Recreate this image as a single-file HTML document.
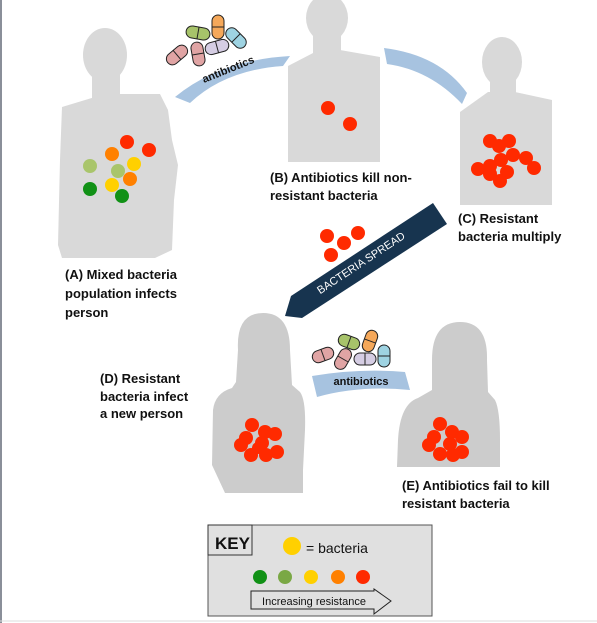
<!DOCTYPE html>
<html><head><meta charset="utf-8">
<style>
html,body{margin:0;padding:0;background:#fff;}
svg{display:block;font-family:"Liberation Sans",sans-serif;}
.lbl{font-weight:bold;font-size:13px;fill:#111;}
</style></head>
<body>
<svg width="597" height="623" viewBox="0 0 597 623">
<line x1="1" y1="0" x2="1" y2="623" stroke="#8a8f99" stroke-width="2"/>
<line x1="0" y1="621" x2="597" y2="621" stroke="#ddd" stroke-width="1"/>

<!-- Figure A -->
<g fill="#d9d9d9">
<ellipse cx="105" cy="55" rx="22" ry="27"/>
<rect x="92" y="70" width="28" height="35"/>
<path d="M62,107 L95,97 L120,94 L160,94 L168,110 L172,140 L178,165 L174,200 L172,250 L155,258 L62,258 L58,245 L60,160 Z"/>
</g>
<g>
<circle cx="127" cy="142" r="7" fill="#ff2a00"/><circle cx="149" cy="150" r="7" fill="#ff2a00"/>
<circle cx="112" cy="154" r="7" fill="#ff8000"/><circle cx="90" cy="166" r="7" fill="#a9c56b"/>
<circle cx="118" cy="171" r="7" fill="#a9c56b"/><circle cx="134" cy="164" r="7" fill="#ffd000"/>
<circle cx="130" cy="179" r="7" fill="#ff8000"/><circle cx="112" cy="185" r="7" fill="#ffd000"/>
<circle cx="90" cy="189" r="7" fill="#119116"/><circle cx="122" cy="196" r="7" fill="#119116"/>
</g>

<!-- Figure B -->
<g fill="#d9d9d9">
<ellipse cx="327" cy="18" rx="21" ry="24"/>
<rect x="313" y="30" width="28" height="30"/>
<path d="M288,66 L315,52 L340,50 L380,57 L380,162 L288,162 Z"/>
</g>
<circle cx="328" cy="108" r="7" fill="#ff2a00"/>
<circle cx="350" cy="124" r="7" fill="#ff2a00"/>

<!-- Figure C -->
<g fill="#d9d9d9">
<ellipse cx="502" cy="62" rx="20" ry="25"/>
<rect x="490" y="75" width="26" height="20"/>
<path d="M460,112 L488,92 L515,92 L552,100 L552,205 L460,205 Z"/>
</g>
<g fill="#ff2a00">
<circle cx="490" cy="141" r="7"/><circle cx="499" cy="146" r="7"/><circle cx="509" cy="141" r="7"/>
<circle cx="501" cy="160" r="7"/><circle cx="513" cy="155" r="7"/><circle cx="526" cy="158" r="7"/>
<circle cx="534" cy="168" r="7"/><circle cx="478" cy="169" r="7"/><circle cx="490" cy="166" r="7"/>
<circle cx="490" cy="174" r="7"/><circle cx="507" cy="172" r="7"/><circle cx="500" cy="181" r="7"/>
</g>

<!-- Arrows light blue -->
<g>
<path d="M175,97 Q220,60 290,56 L283,66 Q225,70 190,103 Z" fill="#a7c3e0"/>
<text x="0" y="0" font-size="11" font-weight="bold" fill="#111" transform="translate(204,83) rotate(-22)">antibiotics</text>
</g>
<path d="M384,48 Q440,55 467,93 L462,104 Q430,70 387,64 Z" fill="#a7c3e0"/>

<!-- Pills 1 -->
<g stroke="#222" stroke-width="1">
<g transform="translate(177,55) rotate(-40)"><rect x="-12" y="-6" width="24" height="12" rx="6" fill="#e0a4a4"/><line x1="0" y1="-6" x2="0" y2="6"/></g>
<g transform="translate(198,54) rotate(80)"><rect x="-12" y="-6" width="24" height="12" rx="6" fill="#e0a4a4"/><line x1="0" y1="-6" x2="0" y2="6"/></g>
<g transform="translate(198,33) rotate(10)"><rect x="-12" y="-6" width="24" height="12" rx="6" fill="#a7c36a"/><line x1="0" y1="-6" x2="0" y2="6"/></g>
<g transform="translate(218,27) rotate(90)"><rect x="-12" y="-6" width="24" height="12" rx="6" fill="#f5a85a"/><line x1="0" y1="-6" x2="0" y2="6"/></g>
<g transform="translate(217,47) rotate(-15)"><rect x="-12" y="-6" width="24" height="12" rx="6" fill="#d5cde3"/><line x1="0" y1="-6" x2="0" y2="6"/></g>
<g transform="translate(236,38) rotate(45)"><rect x="-12" y="-6" width="24" height="12" rx="6" fill="#9ed3e2"/><line x1="0" y1="-6" x2="0" y2="6"/></g>
</g>

<!-- Bacteria spread arrow -->
<g>
<polygon points="433,203 447,224 302,318 285,316 291,296" fill="#17344f"/>
<text x="0" y="0" font-size="11" fill="#fff" text-anchor="middle" transform="translate(363,266) rotate(-33.5)">BACTERIA SPREAD</text>
</g>
<g fill="#ff2a00">
<circle cx="327" cy="236" r="7"/><circle cx="358" cy="233" r="7"/><circle cx="344" cy="243" r="7"/><circle cx="331" cy="255" r="7"/>
</g>

<!-- Figure D -->
<g fill="#cccccc">
<path d="M238,350 Q236,313 263,313 Q290,313 290,350 L292,385 L300,392 Q306,400 305,430 L303,470 L303,493 L225,493 L212,465 L213,410 Q215,393 232,388 L236,382 Z"/>
</g>
<g fill="#ff2a00">
<circle cx="252" cy="425" r="7"/><circle cx="265" cy="432" r="7"/><circle cx="275" cy="434" r="7"/>
<circle cx="246" cy="438" r="7"/><circle cx="241" cy="445" r="7"/><circle cx="262" cy="443" r="7"/>
<circle cx="277" cy="452" r="7"/><circle cx="251" cy="455" r="7"/><circle cx="266" cy="455" r="7"/><circle cx="258" cy="448" r="6"/>
</g>

<!-- Figure E -->
<g fill="#cccccc">
<path d="M432,360 Q432,322 460,322 Q488,322 487,360 L488,392 L495,400 Q500,410 500,440 L500,467 L397,467 L398,440 Q400,404 418,398 L432,390 Z"/>
</g>
<g fill="#ff2a00">
<circle cx="440" cy="424" r="7"/><circle cx="452" cy="432" r="7"/><circle cx="462" cy="437" r="7"/>
<circle cx="434" cy="437" r="7"/><circle cx="429" cy="445" r="7"/><circle cx="450" cy="444" r="7"/>
<circle cx="462" cy="452" r="7"/><circle cx="440" cy="454" r="7"/><circle cx="453" cy="455" r="7"/>
</g>

<!-- Antibiotics arrow 2 -->
<g>
<path d="M312,376 Q360,368 405,372 L410,390 Q360,385 317,397 Z" fill="#a7c3e0"/>
<text x="361" y="385" font-size="11" font-weight="bold" fill="#111" text-anchor="middle">antibiotics</text>
</g>
<g stroke="#222" stroke-width="1">
<g transform="translate(323,355) rotate(-20)"><rect x="-11" y="-6" width="22" height="12" rx="6" fill="#e0a4a4"/><line x1="0" y1="-6" x2="0" y2="6"/></g>
<g transform="translate(343,359) rotate(-60)"><rect x="-11" y="-6" width="22" height="12" rx="6" fill="#e0a4a4"/><line x1="0" y1="-6" x2="0" y2="6"/></g>
<g transform="translate(349,342) rotate(20)"><rect x="-11" y="-6" width="22" height="12" rx="6" fill="#a7c36a"/><line x1="0" y1="-6" x2="0" y2="6"/></g>
<g transform="translate(370,341) rotate(-70)"><rect x="-11" y="-6" width="22" height="12" rx="6" fill="#f5a85a"/><line x1="0" y1="-6" x2="0" y2="6"/></g>
<g transform="translate(365,359)"><rect x="-11" y="-6" width="22" height="12" rx="6" fill="#d5cde3"/><line x1="0" y1="-6" x2="0" y2="6"/></g>
<g transform="translate(384,356) rotate(90)"><rect x="-11" y="-6" width="22" height="12" rx="6" fill="#9ed3e2"/><line x1="0" y1="-6" x2="0" y2="6"/></g>
</g>

<!-- Labels -->
<text class="lbl"><tspan x="65" y="279">(A) Mixed bacteria</tspan><tspan x="65" y="298">population infects</tspan><tspan x="65" y="317">person</tspan></text>
<text class="lbl"><tspan x="270" y="182">(B) Antibiotics kill non-</tspan><tspan x="270" y="200">resistant bacteria</tspan></text>
<text class="lbl"><tspan x="458" y="223">(C) Resistant</tspan><tspan x="458" y="241">bacteria multiply</tspan></text>
<text class="lbl"><tspan x="100" y="383">(D) Resistant</tspan><tspan x="100" y="401">bacteria infect</tspan><tspan x="100" y="418">a new person</tspan></text>
<text class="lbl"><tspan x="402" y="490">(E) Antibiotics fail to kill</tspan><tspan x="402" y="508">resistant bacteria</tspan></text>

<!-- Key -->
<g>
<rect x="208" y="525" width="224" height="91" fill="#e0e0e0" stroke="#555" stroke-width="1"/>
<rect x="208" y="525" width="44" height="30" fill="#e0e0e0" stroke="#333" stroke-width="1"/>
<text x="215" y="549" font-size="17" font-weight="bold" fill="#111">KEY</text>
<circle cx="292" cy="546" r="9" fill="#ffd000"/>
<text x="306" y="553" font-size="14" fill="#111">= bacteria</text>
<circle cx="260" cy="577" r="7" fill="#119116"/><circle cx="285" cy="577" r="7" fill="#7aa845"/>
<circle cx="311" cy="577" r="7" fill="#ffd000"/><circle cx="338" cy="577" r="7" fill="#ff8000"/>
<circle cx="363" cy="577" r="7" fill="#ff2a00"/>
<polygon points="251,591 374,591 374,589 391,601 374,614 374,609 251,609" fill="#e0e0e0" stroke="#222" stroke-width="1"/>
<text x="314" y="605" font-size="11" fill="#111" text-anchor="middle">Increasing resistance</text>
</g>
</svg>
</body></html>
